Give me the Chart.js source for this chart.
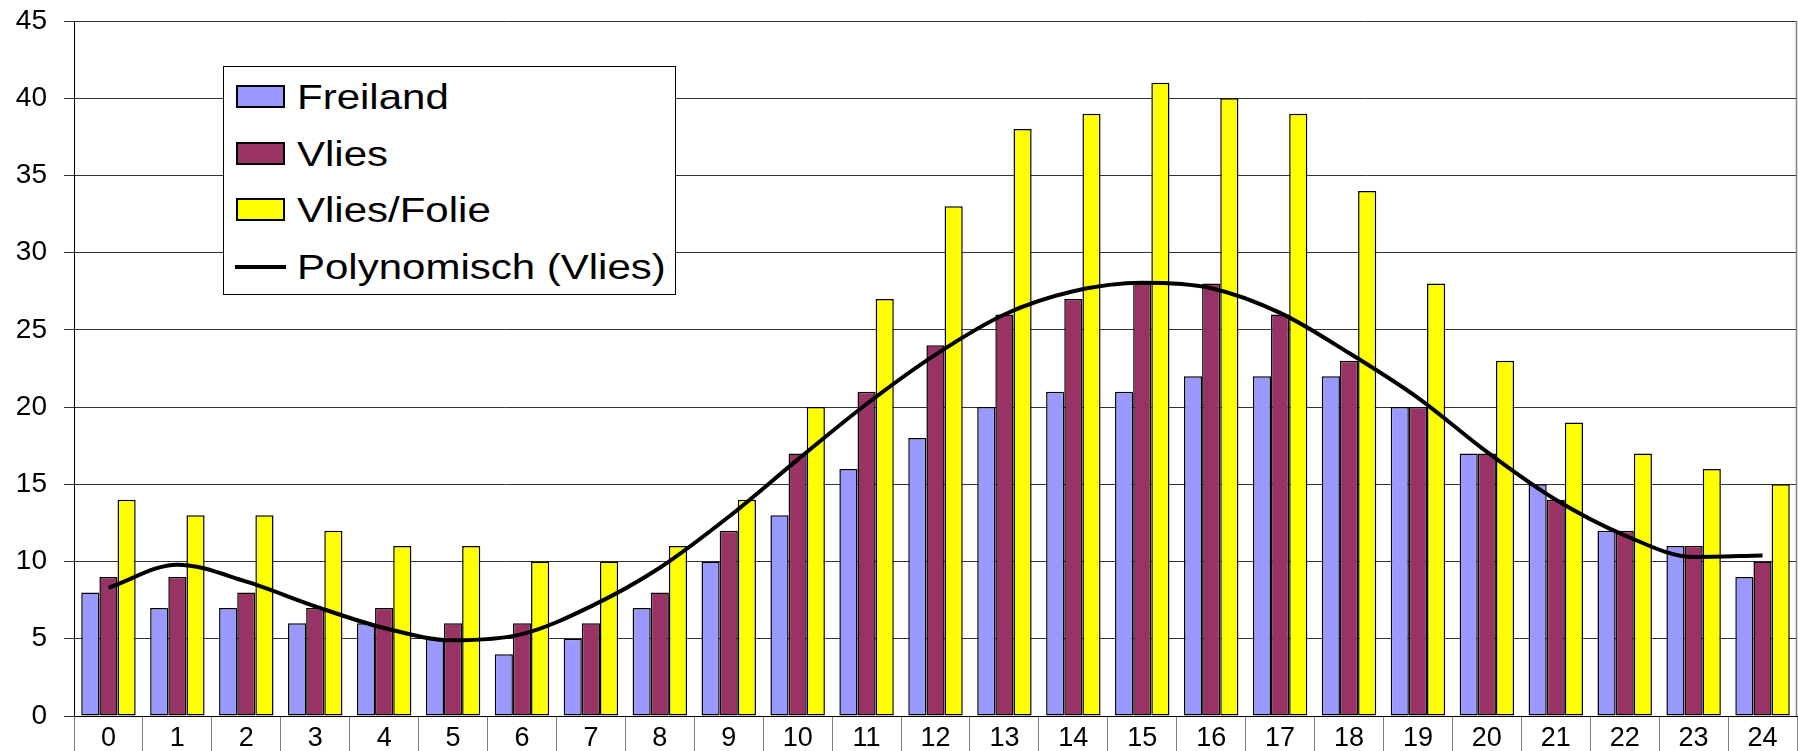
<!DOCTYPE html>
<html>
<head>
<meta charset="utf-8">
<script src="https://cdn.jsdelivr.net/npm/chart.js@4"></script>
<style>
  body { margin: 0; overflow: hidden; background: #fff; }
  #wrap { position: relative; width: 1798px; height: 770px; }
  #legend {
    position: absolute; left: 223px; top: 66px; width: 453px; height: 229px;
    box-sizing: border-box; border: 1px solid #000; background: #fff;
    font-family: "Liberation Sans", Arial, sans-serif; font-size: 35px; color: #000;
  }
  .item { position: absolute; left: 0; height: 40px; width: 100%; }
  .swatch { position: absolute; left: 12px; top: 8px; width: 49px; height: 23px; box-sizing: border-box; border: 2px solid #000; }
  .lineSwatch { position: absolute; left: 11px; top: 18px; width: 51px; height: 4px; background: #000; }
  .label { position: absolute; left: 73px; top: 0; line-height: 40px; white-space: nowrap;
           transform: scaleX(1.2); transform-origin: left center; }
</style>
</head>
<body>
<div id="wrap">
  <canvas id="chart" width="1798" height="770"></canvas>
  <div id="legend"></div>
</div>
<script>
const hours = ['0','1','2','3','4','5','6','7','8','9','10','11','12','13','14','15','16','17','18','19','20','21','22','23','24'];
const freiland = [8, 7, 7, 6, 6, 5, 4, 5, 7, 10, 13, 16, 18, 20, 21, 21, 22, 22, 22, 20, 17, 15, 12, 11, 9];
const vlies = [9, 9, 8, 7, 7, 6, 6, 6, 8, 12, 17, 21, 24, 26, 27, 28, 28, 26, 23, 20, 17, 14, 12, 11, 10];
const vliesFolie = [14, 13, 13, 12, 11, 11, 10, 10, 11, 14, 20, 27, 33, 38, 39, 41, 40, 39, 34, 28, 23, 19, 17, 16, 15];
// trendline at each hour
const trendVlies = [8.3, 9.8, 8.7, 7.1, 5.7, 4.9, 5.3, 7.1, 9.6, 12.9, 16.6, 20.2, 23.4, 26.0, 27.5, 28.05, 27.7, 26.1, 23.5, 20.6, 17.1, 14.0, 11.7, 10.3, 10.4];
const yTicks = [0, 5, 10, 15, 20, 25, 30, 35, 40, 45];

const font = "'Liberation Sans', Arial, sans-serif";

const rightEdge = {
    id: 'rightEdge',
    afterDraw(chart) {
        const a = chart.chartArea;
        const ctx = chart.ctx;
        ctx.save();
        ctx.strokeStyle = '#808080';
        ctx.lineWidth = 1.5;
        ctx.beginPath();
        ctx.moveTo(a.right - 0.5, a.top);
        ctx.lineTo(a.right - 0.5, a.bottom);
        ctx.stroke();
        ctx.restore();
    }
};

function barSet(label, data, color) {
    return {
        label: label,
        data: data,
        backgroundColor: color,
        borderColor: '#000',
        borderWidth: 1.5,
        borderSkipped: false,
        categoryPercentage: 0.79,
        barPercentage: 1.0,
        order: 1
    };
}

const ctx = document.getElementById('chart').getContext('2d');
const chart = new Chart(ctx, {
    type: 'bar',
    data: {
        labels: hours,
        datasets: [
            barSet('Freiland', freiland, '#9999FF'),
            barSet('Vlies', vlies, '#993366'),
            barSet('Vlies/Folie', vliesFolie, '#FFFF00'),
            {
                type: 'line',
                label: 'Polynomisch (Vlies)',
                data: trendVlies,
                borderColor: '#000',
                borderWidth: 4,
                pointRadius: 0,
                cubicInterpolationMode: 'monotone',
                fill: false,
                order: 0
            }
        ]
    },
    options: {
        responsive: false,
        animation: false,
        layout: { padding: { top: 21, right: 1, left: 0, bottom: 0 } },
        plugins: { legend: { display: false }, tooltip: { enabled: false } },
        scales: {
            x: {
                offset: true,
                grid: { offset: true, drawOnChartArea: false, drawTicks: true, tickLength: 50, color: '#808080', lineWidth: 1 },
                border: { color: '#000', width: 1 },
                ticks: { color: '#000', font: { family: font, size: 27 }, padding: -44, maxRotation: 0, autoSkip: false },
                afterFit(scale) { scale.height = 54; }
            },
            y: {
                min: 0,
                max: 45,
                afterBuildTicks(scale) { scale.ticks = yTicks.map(v => ({ value: v })); },
                grid: { color: '#333', lineWidth: 1, drawTicks: true, tickLength: 10 },
                border: { color: '#000', width: 1 },
                ticks: { color: '#000', font: { family: font, size: 28 }, padding: 17 },
                afterFit(scale) {
                    scale.width = 74;
                    scale.paddingTop = 0;
                    scale.paddingBottom = 0;
                }
            }
        }
    },
    plugins: [rightEdge]
});

// legend built from the datasets
const legend = document.getElementById('legend');
chart.data.datasets.forEach(function (ds, i) {
    const item = document.createElement('div');
    item.className = 'item';
    item.style.top = (10 + i * 56.7) + 'px';
    const sw = document.createElement('div');
    if (ds.type === 'line') {
        sw.className = 'lineSwatch';
    } else {
        sw.className = 'swatch';
        sw.style.background = ds.backgroundColor;
    }
    const lab = document.createElement('span');
    lab.className = 'label';
    lab.textContent = ds.label;
    item.appendChild(sw);
    item.appendChild(lab);
    legend.appendChild(item);
});
</script>
</body>
</html>
